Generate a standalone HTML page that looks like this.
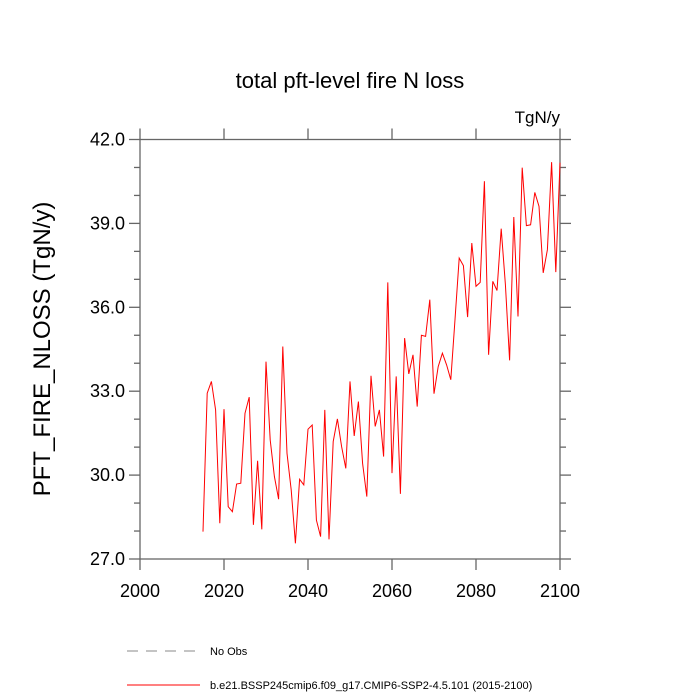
<!DOCTYPE html>
<html><head><meta charset="utf-8"><style>
body{margin:0;background:#fff;}
svg{display:block;font-family:"Liberation Sans",sans-serif;}
</style></head><body>
<svg id="chart" width="700" height="700" viewBox="0 0 700 700">
<text x="350" y="88" font-size="22" text-anchor="middle">total pft-level fire N loss</text>
<text x="560" y="123" font-size="17" text-anchor="end">TgN/y</text>
<text transform="translate(50,349) rotate(-90)" font-size="24" text-anchor="middle">PFT_FIRE_NLOSS  (TgN/y)</text>
<g id="axes"></g>
<g id="series"></g>
<g>
<line x1="127" y1="651" x2="200" y2="651" stroke="#888" stroke-width="1" stroke-dasharray="11,8"/>
<text x="210" y="655" font-size="11">No Obs</text>
<line x1="127" y1="685" x2="200" y2="685" stroke="#f00" stroke-width="1"/>
<text x="210" y="689" font-size="11">b.e21.BSSP245cmip6.f09_g17.CMIP6-SSP2-4.5.101 (2015-2100)</text>
</g>
</svg>
<script>
const startYear = 2015;
const values = [27.98,32.93,33.35,32.33,28.28,32.36,28.87,28.69,29.68,29.71,32.21,32.79,28.22,30.51,28.06,34.06,31.26,29.95,29.14,34.6,30.78,29.47,27.56,29.85,29.65,31.64,31.79,28.39,27.8,32.33,27.7,31.2,32.01,31.02,30.24,33.35,31.4,32.63,30.42,29.23,33.55,31.74,32.33,30.66,36.89,30.07,33.53,29.33,34.9,33.62,34.3,32.45,35.0,34.96,36.27,32.91,33.88,34.36,33.94,33.41,35.56,37.76,37.49,35.65,38.3,36.75,36.89,40.51,34.3,36.93,36.6,38.81,36.81,34.1,39.23,35.67,40.99,38.92,38.95,40.11,39.61,37.23,38.06,41.19,37.26,41.17];
const xTicks = [2000,2020,2040,2060,2080,2100];
const yTicks = [27.0,30.0,33.0,36.0,39.0,42.0];
const xMin=2000,xMax=2100,yMin=27,yMax=42;
const L=140,R=560,T=139.5,B=559;
const sx=v=>L+(v-xMin)/(xMax-xMin)*(R-L);
const sy=v=>B-(v-yMin)/(yMax-yMin)*(B-T);
const NS='http://www.w3.org/2000/svg';
const ax=document.getElementById('axes');
function mk(tag,attrs,parent){const e=document.createElementNS(NS,tag);for(const k in attrs)e.setAttribute(k,attrs[k]);parent.appendChild(e);return e;}
const frame=mk('rect',{x:L,y:T,width:R-L,height:B-T,fill:'none',stroke:'#666','stroke-width':1.3},ax);


for(let v=yMin;v<=yMax;v+=1){
  const y=sy(v);const major=(v-yMin)%3===0;const len=major?11:6;
  const t=mk('line',{x1:L-len,y1:y,x2:L,y2:y,stroke:'#666','stroke-width':1.3},ax);
  
  
  const t2=mk('line',{x1:R,y1:y,x2:R+len,y2:y,stroke:'#666','stroke-width':1.3},ax);
  
  
}
yTicks.forEach(v=>{
  const t=mk('text',{x:L-15,y:sy(v)+6,'font-size':18,'text-anchor':'end'},ax);
  t.textContent=v.toFixed(1);
  
  
});
xTicks.forEach(v=>{
  const x=sx(v);
  const t=mk('line',{x1:x,y1:B,x2:x,y2:B+11,stroke:'#666','stroke-width':1.3},ax);
  
  
  const t2=mk('line',{x1:x,y1:T-11,x2:x,y2:T,stroke:'#666','stroke-width':1.3},ax);
  
  
  const l=mk('text',{x:x,y:B+38,'font-size':18,'text-anchor':'middle'},ax);
  l.textContent=v;
  
  
});
const pts=values.map((v,i)=>sx(startYear+i).toFixed(1)+','+sy(v).toFixed(1)).join(' ');
const line=mk('polyline',{points:pts,fill:'none',stroke:'#f00','stroke-width':1},document.getElementById('series'));


</script>
</body></html>
